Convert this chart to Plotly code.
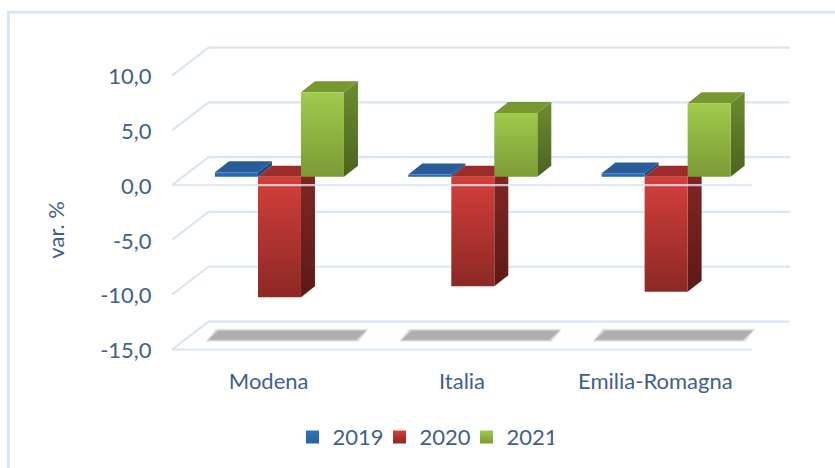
import plotly.graph_objects as go

categories = ["Modena", "Italia", "Emilia-Romagna"]
series_names = ["2019", "2020", "2021"]
values_2019 = [0.4, 0.2, 0.3]
values_2020 = [-11.0, -10.0, -10.5]
values_2021 = [7.7, 5.8, 6.7]
y_ticks = [10, 5, 0, -5, -10, -15]
y_tick_labels = ["10,0", "5,0", "0,0", "-5,0", "-10,0", "-15,0"]

# --- layout of the oblique projection (pixels per data unit)
W, H = 835, 468
PLOT_L, PLOT_R = 172, 790
Y0_PX, PX_Y = 185.0, 10.96
PX_X = 193.33
YMIN, YMAX = -15.5, 12.7
XMIN = -0.5
XMAX = XMIN + (PLOT_R - PLOT_L) / PX_X
FRONT_END = 2.5


def dx(px):
    return px / PX_X


def dy(px):
    return px / PX_Y


WALL_DX, WALL_DY = dx(36.5), dy(28)
BAR_OX, BAR_OY = dx(10.8), dy(8.5)
BAR_W = dx(43)
SIDE_DX, SIDE_DY = dx(14), dy(11)

GRID = "#d9e5f4"
TEXT = "#41608f"
FONT = "Lato"
FS = 22

COLORS = [
    dict(front=("#2f73bd", "#2a62a6"), top="#2a5c9a", side=("#21508a", "#1d4477")),
    dict(front=("#d43f3b", "#8c2825"), top="#9c2c29", side=("#832725", "#5c1917")),
    dict(front=("#a0cb4c", "#7c9a36"), top="#76982f", side=("#6c8c30", "#4c6320")),
]

fig = go.Figure()


def poly(xs, ys, color=None, grad=None, opacity=1.0):
    kw = dict(fillcolor=color) if color else dict(
        fillgradient=dict(type="vertical", colorscale=[[0, grad[1]], [1, grad[0]]]))
    fig.add_trace(go.Scatter(x=xs + xs[:1], y=ys + ys[:1], mode="lines", fill="toself",
                             line=dict(width=0), opacity=opacity, showlegend=False,
                             hoverinfo="skip", cliponaxis=False, **kw))


def line(xs, ys, color=GRID, width=2.2):
    fig.add_trace(go.Scatter(x=xs, y=ys, mode="lines", line=dict(color=color, width=width),
                             showlegend=False, hoverinfo="skip", cliponaxis=False))


# walls: back lines and left slants at every tick
for t in y_ticks:
    line([XMIN, XMIN + WALL_DX, XMAX], [t, t + WALL_DY, t + WALL_DY])
# front edge of the floor
line([XMIN, FRONT_END], [-15, -15])

# floor shadows, layered to look blurred
for i in range(len(categories)):
    left = i - dx(60)
    right = i + dx(87)
    slant = dx(10)
    for grow, op in [(3.5, 0.10), (2.6, 0.14), (1.7, 0.20), (0.8, 0.28), (0.0, 0.35)]:
        g = dx(grow)
        low = -14.1 - dy(grow * 0.7)
        high = -13.3 + dy(grow * 0.7)
        poly([left - g, right + g, right + slant + g, left + slant - g],
             [low, low, high, high], color="#8f8f8f", opacity=op)

# bars
for s, vals in enumerate([values_2019, values_2020, values_2021]):
    c = COLORS[s]
    for i, v in enumerate(vals):
        x0 = i + BAR_OX + (s - 1.5) * BAR_W
        x1 = x0 + BAR_W
        base, end = BAR_OY, v + BAR_OY
        hi, lo = max(base, end), min(base, end)
        # side
        poly([x1, x1 + SIDE_DX, x1 + SIDE_DX, x1],
             [hi, hi + SIDE_DY, lo + SIDE_DY, lo], grad=c["side"])
        # top
        poly([x0, x1, x1 + SIDE_DX, x0 + SIDE_DX],
             [hi, hi, hi + SIDE_DY, hi + SIDE_DY], color=c["top"])
        # front
        poly([x0, x1, x1, x0], [lo, lo, hi, hi], grad=c["front"])

# front edge at zero runs over the bars
line([XMIN, FRONT_END], [0, 0], color="rgba(217,229,244,0.8)")

# legend entries
for name, c in zip(series_names, COLORS):
    fig.add_trace(go.Scatter(x=[None], y=[None], mode="markers", name=name,
                             marker=dict(symbol="square", size=13, color=c["front"][0],
                                         gradient=dict(type="vertical", color=c["front"][1]))))

PLOT_W = PLOT_R - PLOT_L
PLOT_H = (YMAX - YMIN) * PX_Y
PLOT_B = H - (Y0_PX - YMIN * PX_Y)
AXIS_GAP_Y = (-15 - YMIN) * PX_Y  # axis bottom sits slightly below the -15 line


def pxx(p):
    return (p - PLOT_L) / PLOT_W


def pxy(p):
    return (H - p - PLOT_B) / PLOT_H


fig.update_layout(
    width=W, height=H,
    margin=dict(l=PLOT_L, r=W - PLOT_R, t=Y0_PX - YMAX * PX_Y, b=PLOT_B, pad=0, autoexpand=False),
    paper_bgcolor="white", plot_bgcolor="rgba(0,0,0,0)",
    font=dict(family=FONT, size=FS, color=TEXT),
    xaxis=dict(range=[XMIN, XMAX], tickmode="array", tickvals=list(range(len(categories))),
               ticktext=categories, showgrid=False, zeroline=False, showline=False,
               ticks="outside", ticklen=12 - AXIS_GAP_Y, tickcolor="rgba(0,0,0,0)", automargin=False),
    yaxis=dict(range=[YMIN, YMAX], tickmode="array", tickvals=y_ticks, ticktext=y_tick_labels,
               showgrid=False, zeroline=False, showline=False,
               ticks="outside", ticklen=15, tickcolor="rgba(0,0,0,0)", automargin=False,
               ticklabelshift=1),
    legend=dict(orientation="h", x=pxx(423), xref="paper", y=pxy(437), yanchor="middle", xanchor="center",
                font=dict(family=FONT, size=FS, color=TEXT), entrywidth=42, entrywidthmode="pixels",
                itemclick=False, itemdoubleclick=False, bgcolor="rgba(0,0,0,0)"),
    annotations=[dict(text="var. %", textangle=-90, xref="paper", yref="paper", showarrow=False,
                      x=pxx(55.5), y=pxy(230), xanchor="center", yanchor="middle",
                      font=dict(family=FONT, size=FS, color=TEXT))],
    shapes=[
        dict(type="line", xref="paper", yref="paper", line=dict(color=GRID, width=3),
             x0=pxx(8.5), x1=pxx(8.5), y0=pxy(H), y1=pxy(12)),
        dict(type="line", xref="paper", yref="paper", line=dict(color=GRID, width=3),
             x0=pxx(7), x1=pxx(W), y0=pxy(12), y1=pxy(12)),
    ],
)

fig.write_html("out.html", config={"displayModeBar": False},
               post_script="document.body.style.margin='0';")
